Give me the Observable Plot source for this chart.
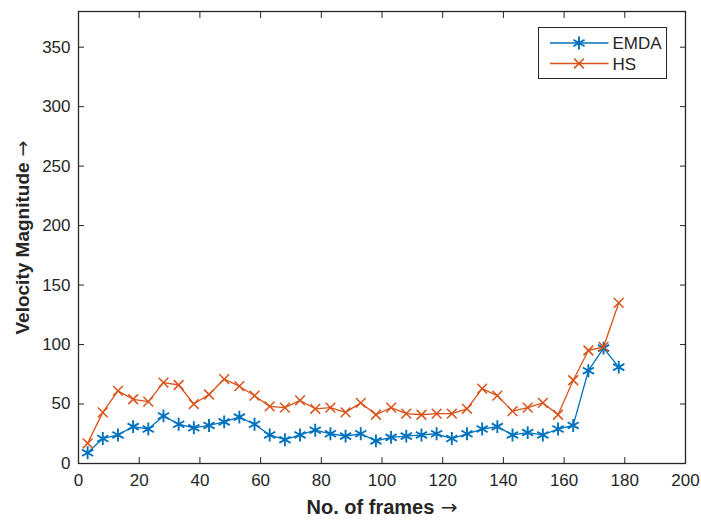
<!DOCTYPE html>
<html>
<head>
<meta charset="utf-8">
<script src="https://cdn.jsdelivr.net/npm/d3@7"></script>
<script src="https://cdn.jsdelivr.net/npm/@observablehq/plot@0.6"></script>
<style>
  html, body { margin: 0; padding: 0; background: #fff; }
  #chart { width: 701px; height: 521px; }
</style>
</head>
<body>
<div id="chart"></div>
<script>
// ---- data ----
const frames = [3,8,13,18,23,28,33,38,43,48,53,58,63,68,73,78,83,88,93,98,103,108,113,118,123,128,133,138,143,148,153,158,163,168,173,178];
const emda = [9,21,24,31,29,40,33,30,32,35,39,33,24,20,24,28,25,23,25,19,22,23,24,25,21,25,29,31,24,26,24,29,32,78,97,81];
const hs = [17,43,61,54,52,68,66,50,58,71,65,57,48,47,53,46,47,43,51,41,47,42,41,42,42,46,63,57,44,47,51,41,70,95,98,135];
const seriesNames = ["EMDA", "HS"];
const seriesColors = ["#0072BD", "#D95319"];
const seriesSymbols = ["asterisk", "times"];
const xTicks = [0,20,40,60,80,100,120,140,160,180,200];
const yTicks = [0,50,100,150,200,250,300,350];
const xLabel = "No. of frames";
const yLabel = "Velocity Magnitude";
const arrow = "\u2192";

const rows = [];
[emda, hs].forEach((vals, s) => vals.forEach((v, i) => rows.push({series: seriesNames[s], frame: frames[i], value: v})));

const axisColor = "#262626";
const font = "'Liberation Sans', Arial, Helvetica, sans-serif";
const symR = {asterisk: 6.1, times: 4.5};
const symW = {asterisk: 1.9, times: 1.5};

const marks = [
  Plot.frame({stroke: axisColor, strokeWidth: 1.3}),
  // inward tick marks on all four sides
  Plot.axisX(xTicks, {anchor: "bottom", fill: "none", stroke: axisColor, tickSize: 6, dy: -6, label: null}),
  Plot.axisX(xTicks, {anchor: "top", fill: "none", stroke: axisColor, tickSize: 6, dy: 6, label: null}),
  Plot.axisY(yTicks, {anchor: "left", fill: "none", stroke: axisColor, tickSize: 6, dx: 6, label: null}),
  Plot.axisY(yTicks, {anchor: "right", fill: "none", stroke: axisColor, tickSize: 6, dx: -6, label: null}),
  // tick labels
  Plot.axisX(xTicks, {anchor: "bottom", stroke: "none", fill: axisColor, tickSize: 0, tickPadding: 10, label: null}),
  Plot.axisY(yTicks, {anchor: "left", stroke: "none", fill: axisColor, tickSize: 0, tickPadding: 8, label: null}),
  // axis titles
  Plot.text([xLabel], {text: d => d, frameAnchor: "bottom", textAnchor: "middle", dy: 50, fontWeight: "bold", fontSize: 20, fill: axisColor, className: "axis-title"}),
  Plot.text([yLabel], {text: d => d, frameAnchor: "left", textAnchor: "middle", rotate: -90, dx: -56, fontWeight: "bold", fontSize: 19, fill: axisColor, className: "axis-title"})
];
seriesNames.forEach((name, s) => {
  const d = rows.filter(r => r.series === name);
  marks.push(Plot.line(d, {x: "frame", y: "value", stroke: seriesColors[s], strokeWidth: 1.3}));
  marks.push(Plot.dot(d, {x: "frame", y: "value", symbol: seriesSymbols[s], r: symR[seriesSymbols[s]], stroke: seriesColors[s], strokeWidth: symW[seriesSymbols[s]]}));
});

const chart = Plot.plot({
  width: 701,
  height: 521,
  marginLeft: 78,
  marginRight: 16,
  marginTop: 11,
  marginBottom: 58,
  style: {fontFamily: font, fontSize: "17px", color: axisColor, background: "#fff", overflow: "visible"},
  x: {domain: [0, 200], axis: null},
  y: {domain: [0, 380], axis: null},
  marks
});
document.getElementById("chart").appendChild(chart);

const svg = d3.select(chart.tagName.toLowerCase() === "svg" ? chart : chart.querySelector("svg"));

// append a wide arrow glyph to each axis title
svg.selectAll(".axis-title text").each(function() {
  d3.select(this).append("tspan").attr("font-family", "'DejaVu Sans', sans-serif").attr("font-weight", "normal").text(" " + arrow);
});

// legend (inside plot, top-right)
const lg = svg.append("g").attr("transform", "translate(538.5,27.5)");
lg.append("rect").attr("width", 128).attr("height", 51).attr("fill", "#fff").attr("stroke", axisColor).attr("stroke-width", 1);
const d3Sym = {asterisk: d3.symbolAsterisk, times: d3.symbolTimes};
seriesNames.forEach((name, s) => {
  const yy = 15.5 + s * 20.5;
  lg.append("line").attr("x1", 11.5).attr("x2", 70).attr("y1", yy).attr("y2", yy).attr("stroke", seriesColors[s]).attr("stroke-width", 1.3);
  const r = symR[seriesSymbols[s]];
  lg.append("path").attr("transform", `translate(40.5,${yy})`)
    .attr("d", d3.symbol(d3Sym[seriesSymbols[s]], Math.PI * r * r)())
    .attr("fill", "none").attr("stroke", seriesColors[s]).attr("stroke-width", symW[seriesSymbols[s]]);
  lg.append("text").attr("x", 74).attr("y", yy).attr("dy", "0.36em").attr("text-anchor", "start")
    .attr("font-family", font).attr("font-size", 17).attr("fill", axisColor).text(name);
});
</script>
</body>
</html>
